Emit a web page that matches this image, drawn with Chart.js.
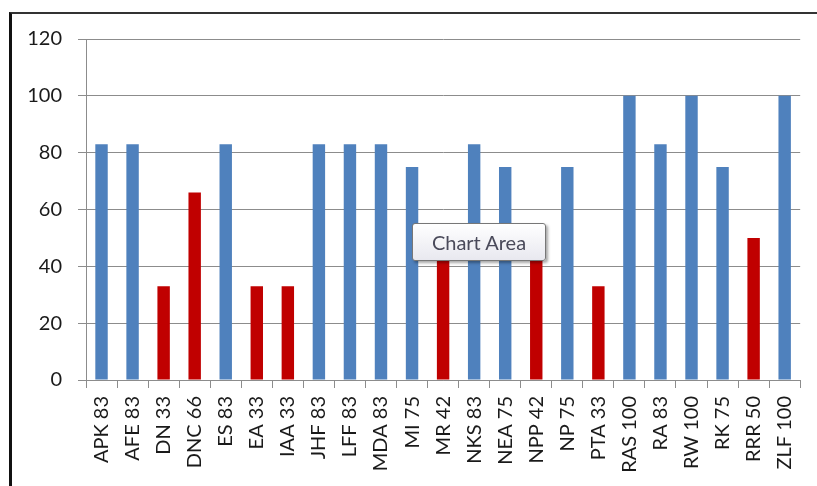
<!DOCTYPE html>
<html>
<head>
<meta charset="utf-8">
<script src="https://cdn.jsdelivr.net/npm/chart.js@4/dist/chart.umd.min.js"></script>
<style>
html,body{margin:0;padding:0;background:#fff;}
#wrap{position:relative;width:817px;height:486px;overflow:hidden;}
#frame{position:absolute;left:9px;top:12px;width:820px;height:490px;border-left:3px solid #111;border-top:2px solid #333;box-sizing:border-box;}
#c{position:absolute;left:0;top:0;}
#tip{position:absolute;left:412px;top:223px;width:134px;height:38px;box-sizing:border-box;border:1px solid #777;border-radius:3px;
background:linear-gradient(#ffffff,#e8e8ef);box-shadow:2px 2px 3px rgba(0,0,0,0.35);
font-family:Lato,"Open Sans",sans-serif;font-size:20px;color:#4a4a5a;line-height:36px;text-align:center;}
</style>
</head>
<body>
<div id="wrap">
<div id="frame"></div>
<canvas id="c" width="817" height="486"></canvas>
<div id="tip">Chart Area</div>
</div>
<script>
const categories = ["APK 83","AFE 83","DN 33","DNC 66","ES 83","EA 33","IAA 33","JHF 83","LFF 83","MDA 83","MI 75","MR 42","NKS 83","NEA 75","NPP 42","NP 75","PTA 33","RAS 100","RA 83","RW 100","RK 75","RRR 50","ZLF 100"];
const values = [83,83,33,66,83,33,33,83,83,83,75,42,83,75,42,75,33,100,83,100,75,50,100];
const yTicks = [0,20,40,60,80,100,120];
const threshold = 70;
const blue = "#4F81BD", red = "#C00000";
const colors = values.map(v => v < threshold ? red : blue);

const font = {family: "Lato, 'Open Sans', sans-serif", size: 20};
new Chart(document.getElementById('c'), {
  type: 'bar',
  data: {labels: categories, datasets: [{data: values, backgroundColor: colors, borderWidth: 0, barPercentage: 0.4, categoryPercentage: 1.0}]},
  options: {
    responsive: false, animation: false,
    layout: {padding: {left: 14, top: 39, right: 15, bottom: 0}},
    plugins: {legend: {display: false}, tooltip: {enabled: false}},
    scales: {
      x: {
        grid: {offset: true, drawOnChartArea: false, tickLength: 8, color: '#8c8c8c', lineWidth: 1},
        border: {color: '#8c8c8c', width: 1},
        ticks: {minRotation: 90, maxRotation: 90, autoSkip: false, color: '#1a1a1a', font: font, padding: 8},
        afterFit: s => { s.height = 106; }
      },
      y: {
        min: 0, max: 120,
        afterBuildTicks: s => { s.ticks = yTicks.map(v => ({value: v})); },
        grid: {color: '#8c8c8c', lineWidth: 1, tickLength: 8},
        border: {color: '#8c8c8c', width: 1},
        ticks: {color: '#1a1a1a', font: font, padding: 16},
        afterFit: s => { s.width = 72; }
      }
    }
  }
});
</script>
</body>
</html>
